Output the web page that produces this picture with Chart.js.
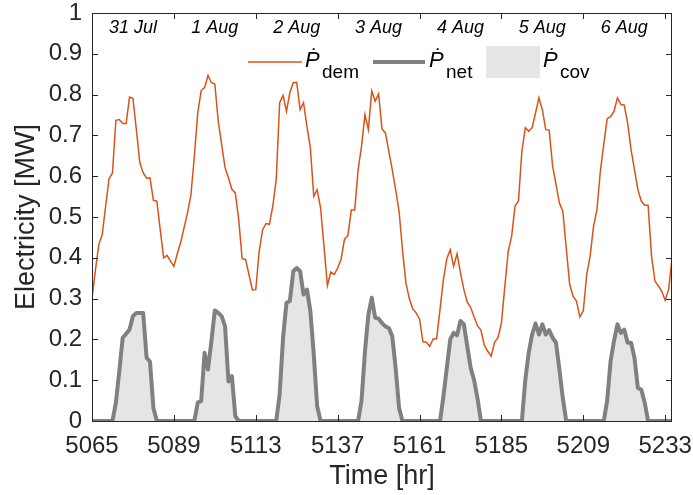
<!DOCTYPE html>
<html>
<head>
<meta charset="utf-8">
<title>Electricity demand and net load</title>
<script src="https://cdn.jsdelivr.net/npm/chart.js@4.4.1/dist/chart.umd.min.js"></script>
<style>
  html, body { margin: 0; padding: 0; background: #fff; }
  #wrap { position: relative; width: 693px; height: 495px; }
</style>
</head>
<body>
<div id="wrap"><canvas id="canvas"></canvas></div>
<script>
  // hourly samples, one week starting at hour 5065
  const firstHour = 5065;

  const demandMW = [
    0.300, 0.370, 0.433, 0.457, 0.527, 0.594, 0.608, 0.737, 0.739, 0.729, 0.729, 0.794,
    0.791, 0.714, 0.634, 0.608, 0.595, 0.596, 0.541, 0.539, 0.469, 0.400, 0.406, 0.392,
    0.379, 0.410, 0.438, 0.474, 0.510, 0.555, 0.649, 0.755, 0.810, 0.817, 0.847, 0.829,
    0.826, 0.735, 0.678, 0.621, 0.596, 0.568, 0.559, 0.494, 0.398, 0.396, 0.359, 0.321,
    0.322, 0.416, 0.469, 0.484, 0.482, 0.527, 0.592, 0.780, 0.798, 0.759, 0.805, 0.829,
    0.830, 0.763, 0.780, 0.722, 0.670, 0.551, 0.567, 0.522, 0.428, 0.332, 0.365, 0.359,
    0.375, 0.396, 0.445, 0.455, 0.517, 0.517, 0.616, 0.673, 0.751, 0.714, 0.809, 0.784,
    0.802, 0.716, 0.706, 0.661, 0.616, 0.567, 0.514, 0.420, 0.339, 0.300, 0.275, 0.265,
    0.250, 0.194, 0.193, 0.183, 0.201, 0.201, 0.273, 0.347, 0.398, 0.420, 0.379, 0.410,
    0.363, 0.322, 0.291, 0.278, 0.255, 0.233, 0.223, 0.185, 0.171, 0.159, 0.193, 0.204,
    0.240, 0.330, 0.416, 0.453, 0.527, 0.539, 0.661, 0.719, 0.710, 0.719, 0.755, 0.792,
    0.763, 0.714, 0.713, 0.625, 0.580, 0.534, 0.514, 0.424, 0.335, 0.306, 0.294, 0.255,
    0.270, 0.359, 0.404, 0.477, 0.518, 0.612, 0.678, 0.741, 0.746, 0.759, 0.792, 0.776,
    0.774, 0.730, 0.665, 0.616, 0.567, 0.539, 0.529, 0.529, 0.404, 0.343, 0.331, 0.318,
    0.296, 0.322, 0.397
  ];

  const netMW = [
    0, 0, 0, 0, 0, 0, 0, 0.045, 0.122, 0.204, 0.214, 0.224,
    0.257, 0.265, 0.265, 0.265, 0.155, 0.145, 0.032, 0, 0, 0, 0, 0,
    0, 0, 0, 0, 0, 0, 0, 0.045, 0.049, 0.167, 0.126, 0.196,
    0.271, 0.265, 0.257, 0.232, 0.097, 0.110, 0.012, 0, 0, 0, 0, 0,
    0, 0, 0, 0, 0, 0, 0, 0.065, 0.204, 0.290, 0.294, 0.367,
    0.375, 0.367, 0.310, 0.322, 0.270, 0.163, 0.036, 0, 0, 0, 0, 0,
    0, 0, 0, 0, 0, 0, 0, 0.050, 0.170, 0.260, 0.302, 0.253,
    0.251, 0.240, 0.232, 0.228, 0.208, 0.130, 0.032, 0, 0, 0, 0, 0,
    0, 0, 0, 0, 0, 0, 0, 0.060, 0.130, 0.200, 0.216, 0.210,
    0.245, 0.237, 0.183, 0.130, 0.100, 0.055, 0, 0, 0, 0, 0, 0,
    0, 0, 0, 0, 0, 0, 0, 0.100, 0.167, 0.212, 0.239, 0.212,
    0.237, 0.212, 0.223, 0.204, 0.192, 0.126, 0.056, 0, 0, 0, 0, 0,
    0, 0, 0, 0, 0, 0, 0, 0.050, 0.147, 0.196, 0.237, 0.216,
    0.224, 0.192, 0.192, 0.155, 0.081, 0.077, 0.045, 0, 0, 0, 0, 0,
    0, 0, 0
  ];

  // the covered share is the whole net load in this week
  const coveredMW = netMW;

  const hourTicks = [5065, 5089, 5113, 5137, 5161, 5185, 5209, 5233];
  const dayLabels = ['31 Jul', '1 Aug', '2 Aug', '3 Aug', '4 Aug', '5 Aug', '6 Aug'];
  const mwTicks = [0, 0.1, 0.2, 0.3, 0.4, 0.5, 0.6, 0.7, 0.8, 0.9, 1];

  const hours = demandMW.map((_, i) => firstHour + i);
  const toPoints = vals => vals.map((v, i) => ({ x: hours[i], y: v }));

  const FONT = '"Liberation Sans", Arial, Helvetica, sans-serif';
  const INK = '#262626';
  const ORANGE = '#D95319';
  const GREY = 'rgb(128,128,128)';
  const FILL = '#e5e5e5';

  // box, inward ticks, day names and the legend
  const decorations = {
    id: 'decorations',
    afterDatasetsDraw(chart) {
      const { ctx, chartArea: a, scales: { x, y } } = chart;
      ctx.save();
      ctx.strokeStyle = INK;
      ctx.lineWidth = 1;
      ctx.beginPath();
      hourTicks.forEach(h => {
        const px = Math.round(x.getPixelForValue(h)) + 0.5;
        ctx.moveTo(px, a.bottom); ctx.lineTo(px, a.bottom - 6);
        ctx.moveTo(px, a.top); ctx.lineTo(px, a.top + 6);
      });
      mwTicks.forEach(v => {
        const py = Math.round(y.getPixelForValue(v)) + 0.5;
        ctx.moveTo(a.left, py); ctx.lineTo(a.left + 6, py);
        ctx.moveTo(a.right, py); ctx.lineTo(a.right - 6, py);
      });
      ctx.stroke();
      ctx.strokeRect(Math.round(a.left) + 0.5, Math.round(a.top) + 0.5,
        Math.round(a.right - a.left) - 1, Math.round(a.bottom - a.top));

      ctx.fillStyle = '#000';
      ctx.font = 'italic 18px ' + FONT;
      ctx.textAlign = 'center';
      ctx.textBaseline = 'alphabetic';
      dayLabels.forEach((d, i) => {
        const cx = (x.getPixelForValue(hourTicks[i]) + x.getPixelForValue(hourTicks[i + 1])) / 2;
        ctx.fillText(d, cx, a.top + 20);
      });
      ctx.restore();
    },
    afterDraw(chart) {
      const { ctx } = chart;
      const ds = chart.data.datasets;
      ctx.save();
      const entry = (x0, sub, drawKey) => {
        drawKey();
        ctx.fillStyle = '#000';
        ctx.textAlign = 'left';
        ctx.textBaseline = 'alphabetic';
        ctx.font = 'italic 22px ' + FONT;
        ctx.fillText('\u1E56', x0, 67);
        ctx.font = '19px ' + FONT;
        ctx.fillText(sub, x0 + 17, 78);
      };
      entry(305, 'dem', () => {
        ctx.strokeStyle = ds[0].borderColor; ctx.lineWidth = ds[0].borderWidth;
        ctx.beginPath(); ctx.moveTo(248, 62); ctx.lineTo(302, 62); ctx.stroke();
      });
      entry(429, 'net', () => {
        ctx.strokeStyle = ds[1].borderColor; ctx.lineWidth = ds[1].borderWidth;
        ctx.beginPath(); ctx.moveTo(373, 62); ctx.lineTo(425, 62); ctx.stroke();
      });
      entry(543, 'cov', () => {
        ctx.fillStyle = ds[2].backgroundColor;
        ctx.fillRect(486, 46, 54, 32);
      });
      ctx.restore();
    }
  };

  window.addEventListener('load', setup);

  function setup() {
    const ctx = document.getElementById('canvas').getContext('2d');
    new Chart(ctx, {
      type: 'line',
      data: {
        datasets: [
          {
            label: 'P_dem',
            data: toPoints(demandMW),
            borderColor: ORANGE,
            borderWidth: 1.5,
            pointRadius: 0,
            fill: false,
            tension: 0
          },
          {
            label: 'P_net',
            data: toPoints(netMW),
            borderColor: GREY,
            borderWidth: 4,
            borderJoinStyle: 'round',
            pointRadius: 0,
            fill: false,
            tension: 0
          },
          {
            label: 'P_cov',
            data: toPoints(coveredMW),
            borderWidth: 0,
            borderColor: 'rgba(0,0,0,0)',
            backgroundColor: FILL,
            pointRadius: 0,
            fill: 'origin',
            tension: 0
          }
        ]
      },
      options: {
        responsive: true,
        maintainAspectRatio: false,
        animation: false,
        devicePixelRatio: 1,
        layout: { padding: { top: 13, right: 21, left: 0, bottom: 0 } },
        plugins: {
          legend: { display: false },
          tooltip: { enabled: false }
        },
        scales: {
          x: {
            type: 'linear',
            min: 5065,
            max: 5235,
            afterBuildTicks: s => { s.ticks = hourTicks.map(v => ({ value: v })); },
            afterFit: s => { s.height = 74; s.paddingLeft = 0; s.paddingRight = 0; },
            grid: { display: false, drawTicks: false },
            border: { display: false },
            ticks: {
              autoSkip: false,
              maxRotation: 0,
              padding: 11,
              color: INK,
              font: { family: FONT, size: 24 },
              callback: v => String(v)
            },
            title: {
              display: true,
              text: 'Time [hr]',
              color: INK,
              font: { family: FONT, size: 27 },
              padding: { top: 0, bottom: 2 }
            }
          },
          y: {
            min: 0,
            max: 1,
            afterBuildTicks: s => { s.ticks = mwTicks.map(v => ({ value: v })); },
            afterFit: s => { s.width = 92; s.paddingTop = 0; s.paddingBottom = 0; },
            grid: { display: false, drawTicks: false },
            border: { display: false },
            ticks: {
              padding: 10,
              color: INK,
              font: { family: FONT, size: 24 },
              callback: v => String(v)
            },
            title: {
              display: true,
              text: 'Electricity [MW]',
              color: INK,
              font: { family: FONT, size: 27 },
              padding: { top: 10, bottom: 0 }
            }
          }
        }
      },
      plugins: [decorations]
    });
  }
</script>
</body>
</html>
